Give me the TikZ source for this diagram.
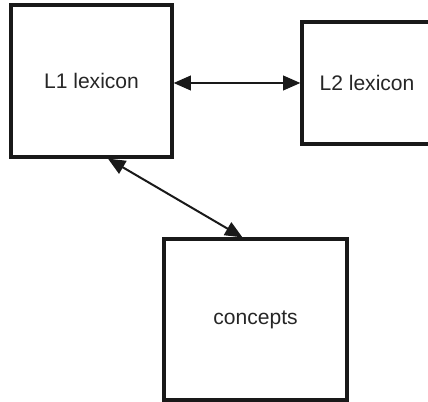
\documentclass[tikz,border=0pt]{standalone}
\usepackage{fontspec}
\setmainfont{Liberation Sans}
\usetikzlibrary{arrows.meta,calc}
\begin{document}
\begin{tikzpicture}[x=0.75pt,y=-0.75pt,
  box/.style={draw=black!90, line width=2.4pt, rectangle, inner sep=0pt,
    font=\fontsize{15.8}{19}\selectfont, text=black!85},
  link/.style={line width=1.5pt, draw=black!90,
    {Triangle[length=13pt,width=11pt]}-{Triangle[length=13pt,width=11pt]}}]
\useasboundingbox (0,0) rectangle (428,402);
\clip (0,0) rectangle (428,402);
\node[box, minimum width=120.75pt, minimum height=114pt] (L1) at (91.5,81) {L1 lexicon};
\node[box, minimum width=97.5pt, minimum height=91.5pt] (L2) at (367,83) {L2 lexicon};
\node[box, minimum width=137.25pt, minimum height=120.75pt] (C) at (255.5,319.5) {concepts};
\draw[link] (L2.west -| L1.east) -- (L2.west);
\coordinate (a) at ($(L1.south west)!0.6!(L1.south east)$);
\coordinate (b) at ($(C.north west)!0.43!(C.north east)$);
\draw[link] (a) -- (b);
\end{tikzpicture}
\end{document}
